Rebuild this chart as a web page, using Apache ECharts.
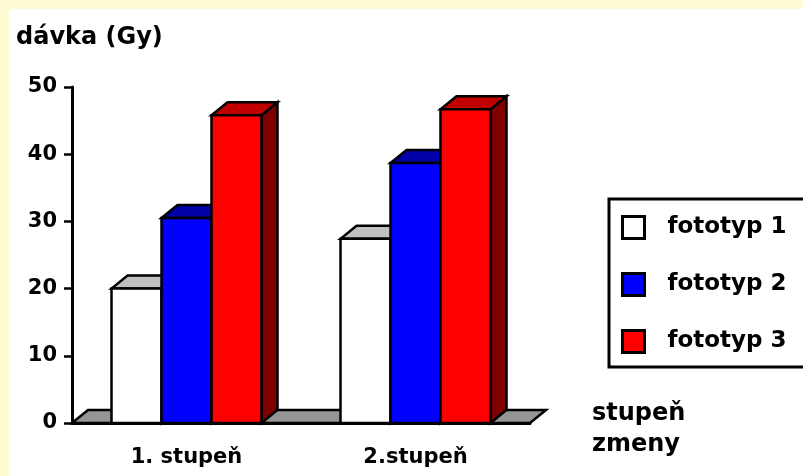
<!DOCTYPE html>
<html>
<head>
<meta charset="utf-8">
<script src="https://cdn.jsdelivr.net/npm/echarts@6/dist/echarts.min.js"></script>
<style>
html,body{margin:0;padding:0;background:#fffbd4;}
#chart{width:803px;height:476px;}
</style>
</head>
<body>
<div id="chart"></div>
<script>
// ---- data ----
const categories = ['1. stupeň', '2.stupeň'];
const seriesNames = ['fototyp 1', 'fototyp 2', 'fototyp 3'];
const fototyp1 = [20, 27.4];
const fototyp2 = [30.5, 38.7];
const fototyp3 = [45.8, 46.7];
const yTicks = [0, 10, 20, 30, 40, 50];
const yTitle = 'dávka (Gy)';
const xTitle = 'stupeň\nzmeny';

// ---- styles ----
const FONT = 'DejaVu Sans';
const DX = 16, DY = 13;
const BAR_FRACTION = 0.655;
const colors = [
  {front: '#ffffff', top: '#c0c0c0', side: '#808080'},
  {front: '#0000ff', top: '#0000a8', side: '#000080'},
  {front: '#ff0000', top: '#c00000', side: '#800000'}
];
const allValues = [fototyp1, fototyp2, fototyp3];

function makeRender(idx) {
  const c = colors[idx];
  return function (params, api) {
    const cat = api.value(0);
    const val = api.value(1);
    const base = api.coord([cat, 0]);
    const topP = api.coord([cat, val]);
    const band = api.size([1, 0])[0];
    const bw = band * BAR_FRACTION / 3;
    const x0 = base[0] + (idx - 1.5) * bw;
    const ty = topP[1], by = base[1];
    const st = {stroke: '#000', lineWidth: 2.5, lineJoin: 'miter'};
    return {
      type: 'group',
      children: [
        {type: 'polygon', shape: {points: [[x0 + bw, ty], [x0 + bw + DX, ty - DY], [x0 + bw + DX, by - DY], [x0 + bw, by]]},
         style: Object.assign({fill: c.side}, st)},
        {type: 'polygon', shape: {points: [[x0, ty], [x0 + DX, ty - DY], [x0 + bw + DX, ty - DY], [x0 + bw, ty]]},
         style: Object.assign({fill: c.top}, st)},
        {type: 'rect', shape: {x: x0, y: ty, width: bw, height: by - ty},
         style: Object.assign({fill: c.front}, st)}
      ]
    };
  };
}

const barSeries = seriesNames.map((name, idx) => ({
  name: name,
  type: 'custom',
  renderItem: makeRender(idx),
  itemStyle: {color: colors[idx].front, borderColor: '#000', borderWidth: 3},
  encode: {x: 0, y: 1},
  data: categories.map((c, i) => [i, allValues[idx][i]]),
  z: 3
}));

const floorSeries = {
  name: 'floor',
  type: 'custom',
  silent: true,
  z: 2,
  renderItem: function (params, api) {
    const cs = params.coordSys;
    const bx = cs.x, by = cs.y + cs.height, r = cs.x + cs.width;
    return {
      type: 'polygon',
      shape: {points: [[bx, by], [r, by], [r + DX, by - DY], [bx + DX, by - DY]]},
      style: {fill: '#959595', stroke: '#000', lineWidth: 2.5}
    };
  },
  data: [[0, 0]]
};

const chart = echarts.init(document.getElementById('chart'), null, {renderer: 'canvas'});
chart.setOption({
  animation: false,
  backgroundColor: '#fffbd4',
  graphic: [{
    type: 'rect', z: -10, silent: true,
    shape: {x: 9, y: 9, width: 800, height: 470},
    style: {fill: '#ffffff'}
  }],
  title: [{
    text: yTitle,
    left: 11, top: 21,
    textStyle: {fontFamily: FONT, fontWeight: 'bold', fontSize: 24, color: '#000'}
  }, {
    text: xTitle,
    left: 587, top: 393,
    textStyle: {fontFamily: FONT, fontWeight: 'bold', fontSize: 24, color: '#000', lineHeight: 31}
  }],
  legend: {
    orient: 'vertical',
    left: 609, top: 199,
    padding: [16, 30, 13, 12],
    itemGap: 32,
    itemWidth: 22, itemHeight: 22,
    icon: 'rect',
    borderColor: '#000', borderWidth: 3,
    backgroundColor: '#fff',
    itemStyle: {borderColor: '#000', borderWidth: 3},
    textStyle: {fontFamily: FONT, fontWeight: 'bold', fontSize: 23, color: '#000', padding: [0, 0, 0, 18]},
    data: seriesNames
  },
  grid: {left: 72, right: 273, top: 87, bottom: 53, containLabel: false},
  xAxis: {
    type: 'category',
    data: categories,
    axisLine: {lineStyle: {color: '#000', width: 3}},
    axisTick: {length: 10, lineStyle: {color: '#000', width: 3}},
    axisLabel: {fontFamily: FONT, fontWeight: 'bold', fontSize: 21, color: '#000', margin: 24}
  },
  yAxis: {
    type: 'value',
    min: yTicks[0], max: yTicks[yTicks.length - 1], interval: 10,
    axisLine: {show: true, lineStyle: {color: '#000', width: 3}},
    axisTick: {show: true, length: 8, lineStyle: {color: '#000', width: 2.5}},
    splitLine: {show: false},
    axisLabel: {fontFamily: FONT, fontWeight: 'bold', fontSize: 21, color: '#000', margin: 15}
  },
  series: [floorSeries].concat(barSeries)
});
</script>
</body>
</html>
